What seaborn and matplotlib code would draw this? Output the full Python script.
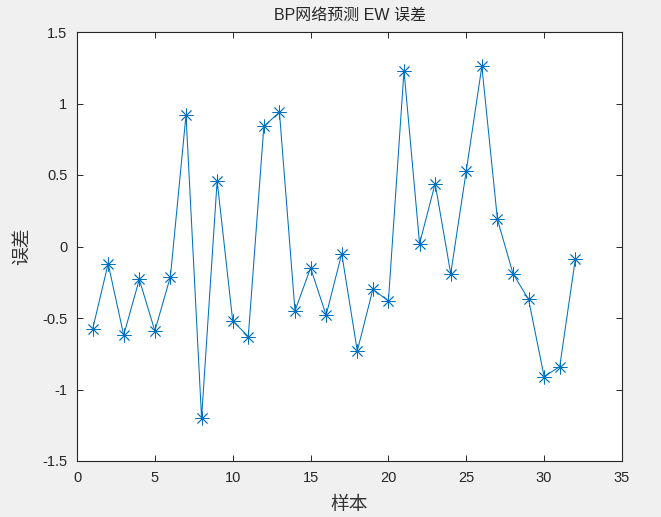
import matplotlib
matplotlib.use("Agg")
import matplotlib.pyplot as plt
import seaborn as sns
import numpy as np
import pandas as pd

samples = list(range(1, 33))
errors = [-0.58, -0.12, -0.62, -0.23, -0.59, -0.21, 0.92, -1.20, 0.46, -0.52,
          -0.63, 0.84, 0.94, -0.45, -0.15, -0.48, -0.05, -0.73, -0.30, -0.38,
          1.23, 0.02, 0.44, -0.19, 0.53, 1.26, 0.19, -0.19, -0.37, -0.91,
          -0.84, -0.09]
xticks = [0, 5, 10, 15, 20, 25, 30, 35]
yticks = [-1.5, -1, -0.5, 0, 0.5, 1, 1.5]
ytick_labels = ["-1.5", "-1", "-0.5", "0", "0.5", "1", "1.5"]
title = "BP网络预测 EW 误差"
xlabel = "样本"
ylabel = "误差"

sns.set_theme(style="white")
plt.rcParams['font.family'] = ['Liberation Sans', 'Noto Sans CJK SC', 'DejaVu Sans']
plt.rcParams['axes.unicode_minus'] = False

df = pd.DataFrame({"x": samples, "y": errors})

fig = plt.figure(figsize=(6.61, 5.17), dpi=100, facecolor="#f0f0f0")
ax = fig.add_axes([77/661, 1-461/517, (622-77)/661, (461-32)/517])
ax.set_facecolor("white")

sns.lineplot(data=df, x="x", y="y", ax=ax, color="#0072BD", linewidth=0.75,
             marker=(8, 2, 0), markersize=10, markeredgecolor="#0072BD",
             markeredgewidth=0.6)

ax.set_xlim(0, 35)
ax.set_ylim(-1.5, 1.5)
ax.set_xticks(xticks)
ax.set_xticklabels([str(t) for t in xticks])
ax.set_yticks(yticks)
ax.set_yticklabels(ytick_labels)
ax.tick_params(direction="in", length=4, width=0.7, colors="#262626",
               labelsize=10.5, top=True, right=True, bottom=True, left=True,
               labelcolor="#262626", pad=7)
for s in ax.spines.values():
    s.set_visible(True)
    s.set_color("#262626")
    s.set_linewidth(0.8)

ax.set_title(title, fontsize=11.5, color="#262626",
             family=['Liberation Sans', 'Noto Sans CJK SC'], pad=8)
ax.set_xlabel(xlabel, fontsize=13.5, color="#333333", family=['Noto Sans CJK SC'], labelpad=7)
ax.set_ylabel(ylabel, fontsize=13.5, color="#333333", family=['Noto Sans CJK SC'], labelpad=7)

fig.savefig("out.png", dpi=100, facecolor=fig.get_facecolor())
